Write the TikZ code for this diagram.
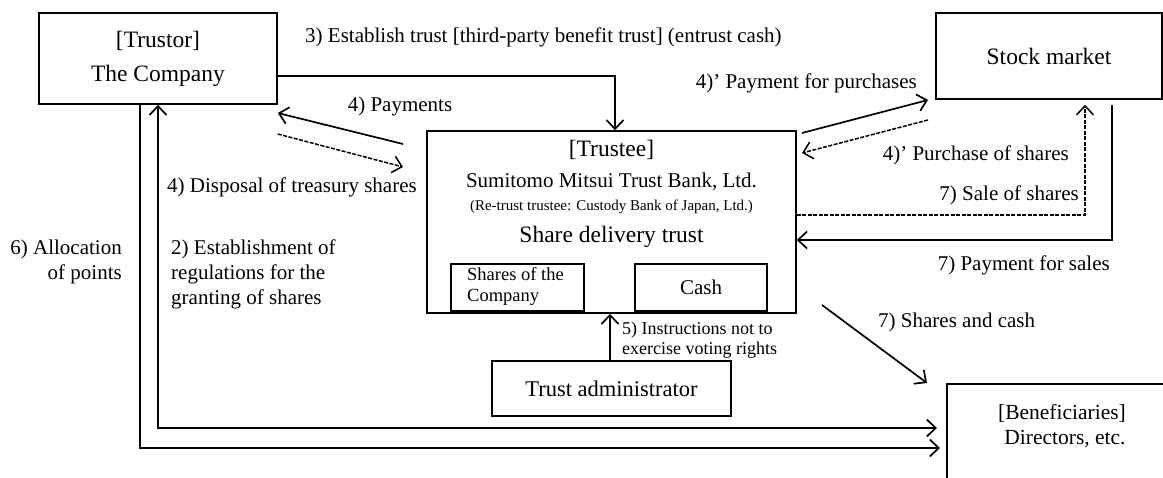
\documentclass[tikz,border=0pt]{standalone}
\usepackage{fontspec}
\setmainfont{Liberation Serif}
\usetikzlibrary{arrows.meta,calc,positioning}
\newcommand{\boxfont}{\fontsize{23.5}{34}\selectfont}
\newcommand{\lblfont}{\fontsize{21}{25}\selectfont}
\tikzset{
    block/.style={
        draw,
        rectangle,
        line width=1.6pt,
        inner sep=0pt,
        align=center,
        font=\boxfont
    },
    inner_block/.style={
        draw,
        rectangle,
        line width=1.6pt,
        inner sep=0pt,
        minimum width=133pt,
        minimum height=47pt
    },
    txt/.style={
        inner sep=0pt,
        font=\lblfont
    },
    flow/.style={
        ->,
        line width=1.7pt
    },
    dashed_flow/.style={
        ->,
        line width=1.5pt,
        dash pattern=on 4pt off 1.5pt
    },
}

\begin{document}
\begin{tikzpicture}[x=1pt, y=-1pt, >={Straight Barb[length=9pt,width=17pt]}]
    \useasboundingbox (0,0) rectangle (1163,477);
    % blocks
    \node[block, minimum width=238pt, minimum height=91pt] (trustor) at (158,58.5) {[Trustor]\\The Company};
    \node[block, minimum width=226pt, minimum height=86pt] (market) at (1049,56) {Stock market};
    \node[block, minimum width=369pt, minimum height=182pt] (trustee) at (611.5,222) {};
    \node[font=\boxfont, inner sep=0pt] (trustee_head) at (611.5,150) {[Trustee]};
    \node[txt] (bank) at (611.5,182) {Sumitomo Mitsui Trust Bank, Ltd.};
    \node[inner sep=0pt, font=\fontsize{15}{18}\selectfont] (retrust) at (611.5,207) {(Re-trust trustee: Custody Bank of Japan, Ltd.)};
    \node[font=\boxfont, inner sep=0pt] (delivery) at (611.5,237) {Share delivery trust};
    \node[inner_block] (shares) at (517.5,287.5) {};
    \node[inner sep=0pt, anchor=west, align=left, font=\fontsize{18.5}{21}\selectfont] (shares_txt) at (467,286.5) {Shares of the\\Company};
    \node[inner_block, minimum width=132pt, font=\lblfont] (cash) at (701,287.5) {Cash};
    \node[block, minimum width=239pt, minimum height=55pt, font=\fontsize{22.5}{26}\selectfont] (admin) at (611.5,388.5) {Trust administrator};
    \node[block, anchor=north west, minimum width=260pt, minimum height=140pt] (benef) at (946,383) {};
    \node[font=\fontsize{21.5}{25}\selectfont, align=center, inner sep=0pt] (benef_txt) at (1062,426) {[Beneficiaries]\\\hspace*{6pt}Directors, etc.};

    % coordinates
    \coordinate (pay_out)  at (403,144);
    \coordinate (pay_in)   at (trustor.east |- 0,113);
    \coordinate (disp_out) at (trustor.east |- 0,134);
    \coordinate (disp_in)  at (403,167);
    \coordinate (buy_out)  at (802,133);
    \coordinate (buy_in)   at (928,100);
    \coordinate (get_out)  at (928,120);
    \coordinate (get_in)   at (802,153);
    \coordinate (sc_out)   at (822,305);
    \coordinate (sc_in)    at (927,383);

    % lines
    \draw[flow] (trustor.east |- 0,76) -| (trustee.north -| 615,0);
    \draw[flow] (pay_out) -- (pay_in);
    \draw[dashed_flow] (disp_out) -- (disp_in);
    \draw[flow] (buy_out) -- (buy_in);
    \draw[dashed_flow] (get_out) -- (get_in);
    \draw[dashed_flow] (trustee.east |- 0,215) -| ([yshift=-5pt]market.south -| 1085,0);
    \draw[flow] ([yshift=-5pt]market.south -| 1112,0) |- (trustee.east |- 0,240);
    \draw[flow] (admin.north -| 610,0) -- (trustee.south -| 610,0);
    \draw[flow] (sc_out) -- (sc_in);
    \draw[flow] (trustor.south -| 140,0) |- ([xshift=-6pt]benef.west |- 0,448);
    \draw[flow, <->] (trustor.south -| 158,0) |- ([xshift=-9pt]benef.west |- 0,428);

    % labels
    \node[txt, anchor=west] (l3) at (305,37) {3) Establish trust [third-party benefit trust] (entrust cash)};
    \node[txt] (l4a) at (400,106) {4) Payments};
    \node[txt, anchor=west] (l4b) at (167,187) {4) Disposal of treasury shares};
    \node[txt, anchor=east] (l4c) at (917,83) {4)' Payment for purchases};
    \node[txt, anchor=east] (l4d) at (1069,155) {4)' Purchase of shares};
    \node[txt, anchor=east] (l7a) at (1079,195) {7) Sale of shares};
    \node[txt, anchor=east] (l7b) at (1110,265) {7) Payment for sales};
    \node[txt, anchor=west, align=left, font=\fontsize{18}{20}\selectfont] (l5) at (622,340) {5) Instructions not to\\exercise voting rights};
    \node[txt, anchor=west] (l7c) at (878,322) {7) Shares and cash};
    \node[txt, anchor=east, align=right] (l6) at (122,261.5) {6) Allocation\\of points};
    \node[txt, anchor=west, align=left] (l2) at (171,274) {2) Establishment of\\regulations for the\\granting of shares};
\end{tikzpicture}
\end{document}
